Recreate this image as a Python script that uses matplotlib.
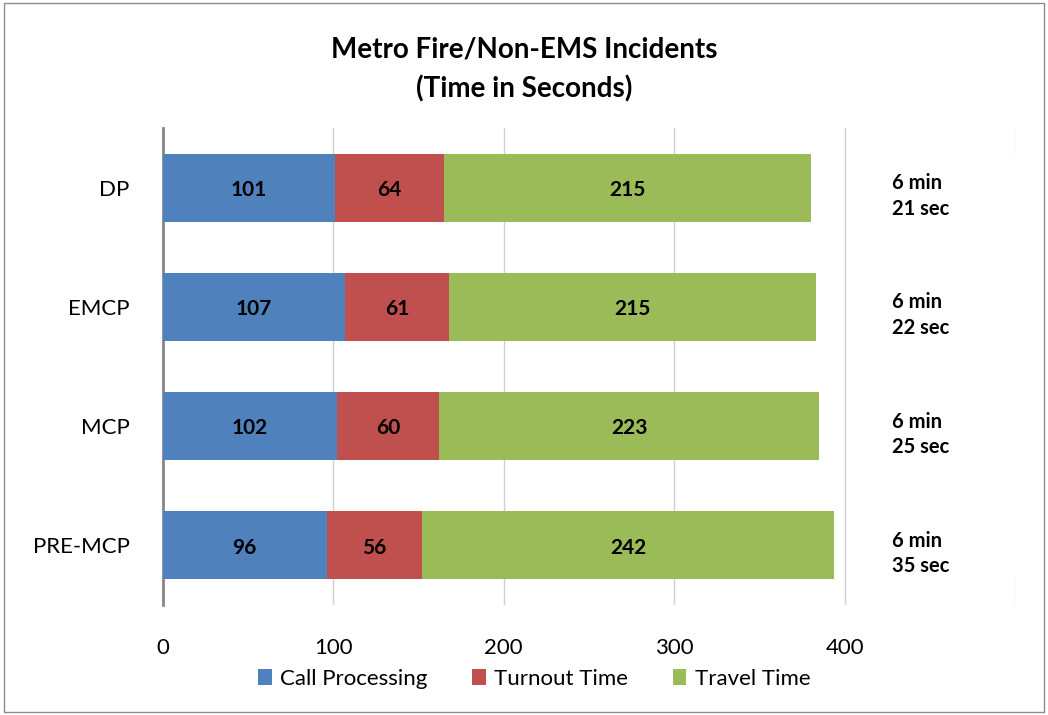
import numpy as np
import matplotlib.pyplot as plt
from matplotlib.patches import Rectangle

plt.rcParams['font.family'] = ['Lato', 'DejaVu Sans']

categories = ['DP', 'EMCP', 'MCP', 'PRE-MCP']
call_processing = [101, 107, 102, 96]
turnout_time = [64, 61, 60, 56]
travel_time = [215, 215, 223, 242]
totals_text = ['6 min\n21 sec', '6 min\n22 sec', '6 min\n25 sec', '6 min\n35 sec']

series_names = ['Call Processing', 'Turnout Time', 'Travel Time']
colors = ['#4F81BD', '#C0504D', '#9BBB59']

fig = plt.figure(figsize=(10.48, 7.15), dpi=100)
ax = fig.add_axes([0.1555, 0.154, 0.813, 0.667])

y = np.arange(len(categories))
left = np.zeros(len(categories))
for vals, name, c in zip([call_processing, turnout_time, travel_time], series_names, colors):
    vals = np.array(vals)
    ax.barh(y, vals, left=left, height=0.57, color=c, label=name, zorder=3)
    for yi, l, v in zip(y, left, vals):
        ax.text(l + v / 2, yi + 0.02, str(v), ha='center', va='center',
                fontsize=15, fontweight='bold', zorder=4)
    left = left + vals

# total time text to the right of the bars
for yi, t in zip(y, totals_text):
    ax.text(428, yi + 0.07, t, ha='left', va='center', fontsize=14.5,
            fontweight='bold', linespacing=1.35)

ax.set_xlim(0, 500)
ax.set_ylim(len(categories) - 0.5, -0.5)
ax.set_xticks([0, 100, 200, 300, 400])
ax.set_yticks(y)
ax.set_yticklabels(categories)
ax.tick_params(axis='both', length=0, labelsize=16)
ax.tick_params(axis='x', pad=24)
ax.tick_params(axis='y', pad=24)

for gx in [100, 200, 300, 400]:
    ax.axvline(gx, color='#D0D0D0', lw=1, zorder=1)
# 500 gridline is hidden behind the label area
ax.axvline(500, ymin=0, ymax=0.06, color='#D0D0D0', lw=1, zorder=1)
ax.axvline(500, ymin=0.945, ymax=1, color='#D0D0D0', lw=1, zorder=1)

for s in ['top', 'right', 'bottom']:
    ax.spines[s].set_visible(False)
ax.spines['left'].set_color('#868686')
ax.spines['left'].set_linewidth(2)

fig.text(0.5, 0.903, 'Metro Fire/Non-EMS Incidents\n(Time in Seconds)', ha='center',
         va='center', fontsize=20, fontweight='bold', linespacing=1.6)

ax.legend(loc='center', bbox_to_anchor=(0.436, -0.155), ncol=3, frameon=False,
          fontsize=16, handlelength=0.6, handleheight=0.75, handletextpad=0.4,
          columnspacing=2.0)

fig.patches.append(Rectangle((0.004, 0.004), 0.992, 0.992, transform=fig.transFigure,
                             fill=False, edgecolor='#8C8C8C', lw=1))

plt.savefig('out.png', dpi=100)
